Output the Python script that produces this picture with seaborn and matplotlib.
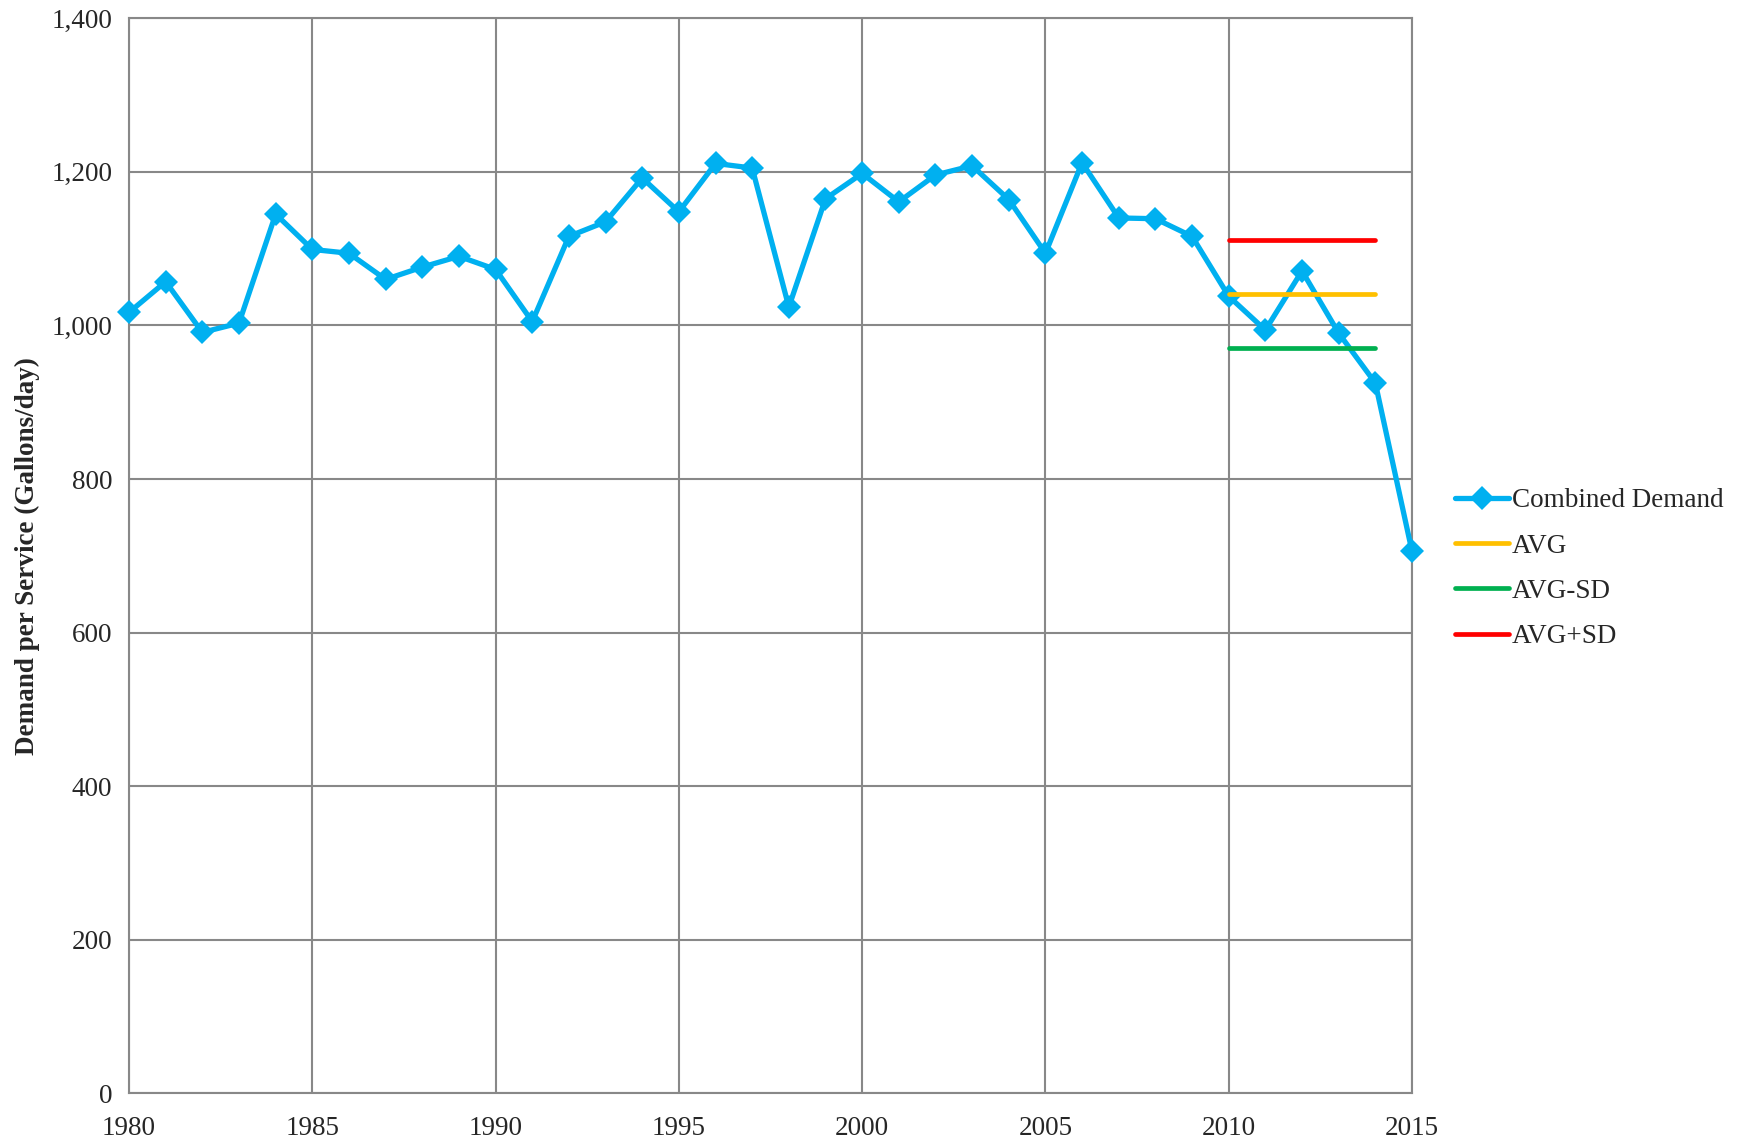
import pandas as pd
import matplotlib.pyplot as plt
import matplotlib.ticker as mticker
import seaborn as sns

years = list(range(1980, 2016))
demand = [1017, 1057, 991, 1003, 1145, 1099, 1094, 1060, 1076, 1090,
          1073, 1005, 1116, 1135, 1192, 1148, 1211, 1205, 1024, 1165,
          1198, 1161, 1196, 1208, 1164, 1094, 1212, 1140, 1139, 1116,
          1038, 994, 1071, 990, 925, 706]

band_years = [2010, 2014]
avg_val = 1041
avg_minus_sd = 971
avg_plus_sd = 1111

sns.set_style("white")
plt.rcParams['font.family'] = ['Liberation Serif', 'DejaVu Serif']

df = pd.DataFrame({"Year": years, "Demand": demand})

fig = plt.figure(figsize=(17.46, 11.44), dpi=100)
ax = fig.add_axes([0.0739, 0.0443, 0.8087 - 0.0739, 0.984 - 0.0443])

sns.lineplot(x="Year", y="Demand", data=df, ax=ax, color="#00B0F0", lw=3.8,
             marker="D", markersize=12.5, markeredgewidth=0, label="Combined Demand",
             clip_on=False, zorder=3)
sns.lineplot(x=band_years, y=[avg_val] * 2, ax=ax, color="#FFC000", lw=3.4,
             label="AVG", solid_capstyle="round", zorder=4)
sns.lineplot(x=band_years, y=[avg_minus_sd] * 2, ax=ax, color="#00B050", lw=3.4,
             label="AVG-SD", solid_capstyle="round", zorder=4)
sns.lineplot(x=band_years, y=[avg_plus_sd] * 2, ax=ax, color="#FF0000", lw=3.4,
             label="AVG+SD", solid_capstyle="round", zorder=4)

ax.set_xlim(1980, 2015)
ax.set_ylim(0, 1400)
ax.set_xticks(range(1980, 2016, 5))
ax.set_yticks(range(0, 1401, 200))
ax.yaxis.set_major_formatter(mticker.StrMethodFormatter("{x:,.0f}"))
ax.grid(True, color="#888888", lw=1.5)
ax.set_axisbelow(True)
for s in ax.spines.values():
    s.set_color("#888888")
    s.set_linewidth(1.5)
ax.tick_params(axis="y", length=0, labelsize=19.5, pad=12)
ax.tick_params(axis="x", length=0, labelsize=19.5, pad=16)
ax.set_xlabel("")
ax.set_ylabel("Demand per Service (Gallons/day)", fontsize=19.5, fontweight="bold",
              labelpad=8)

ax.legend(loc="center left", bbox_to_anchor=(1.0145, 0.488), frameon=False,
          fontsize=19.5, handlelength=2.0, handletextpad=0.1, labelspacing=0.75)

plt.savefig("out.png", dpi=100)
plt.close()
